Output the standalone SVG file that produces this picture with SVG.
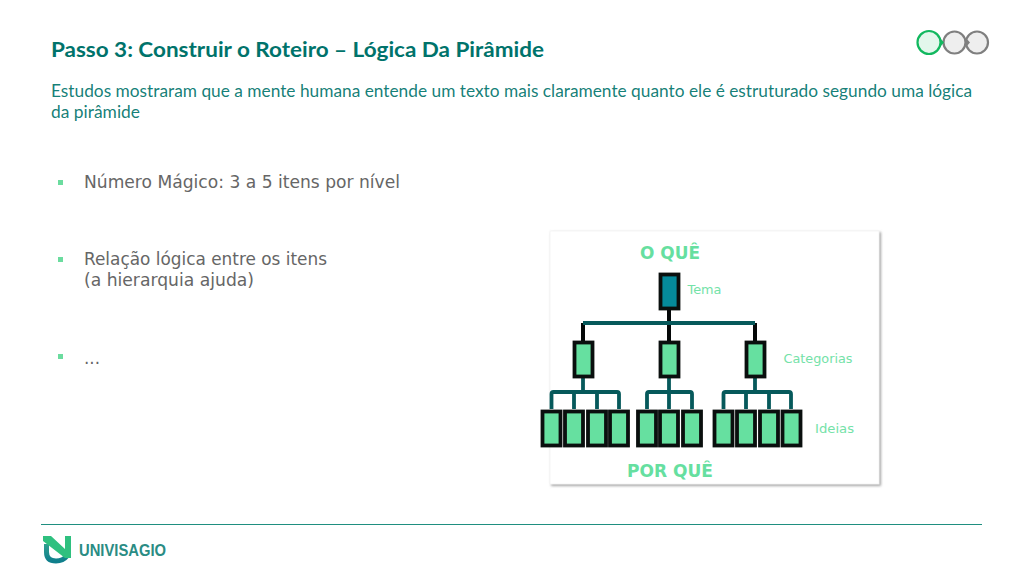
<svg xmlns="http://www.w3.org/2000/svg" width="1024" height="576" viewBox="0 0 1024 576">
<defs>
<linearGradient id="logo" x1="0" y1="0" x2="0" y2="1"><stop offset="0" stop-color="#2f9f8f"/><stop offset="1" stop-color="#0f7f8c"/></linearGradient>
<filter id="sh" x="-5%" y="-5%" width="110%" height="110%"><feDropShadow dx="1.5" dy="1.5" stdDeviation="1" flood-color="#888" flood-opacity="0.8"/></filter>
</defs>
<style>
.h{font-family:"Lato","Open Sans",sans-serif;fill:#00736b}
.b{font-family:"DejaVu Sans",Verdana,sans-serif;font-size:16.8px;fill:#666666}
.l{font-family:"DejaVu Sans",Verdana,sans-serif;font-size:13px;fill:#74e2a8}
.t{font-family:"DejaVu Sans",Verdana,sans-serif;font-size:17px;font-weight:bold;fill:#66dfa0}
.bu{fill:#6bdc9f}
.n{fill:#66e0a0;stroke:#0a0f0e;stroke-width:3.800}
.c{fill:none;stroke:#06595b;stroke-width:3.800}
.k{fill:none;stroke:#050808;stroke-width:4}
</style>
<rect width="1024" height="576" fill="#fff"/>
<text class="h" x="51" y="57" font-size="21" font-weight="700" textLength="493" lengthAdjust="spacingAndGlyphs">Passo 3: Construir o Roteiro – Lógica Da Pirâmide</text>
<text class="h" x="51" y="97" font-size="17.500" textLength="921" lengthAdjust="spacingAndGlyphs" fill-opacity="0.92">Estudos mostraram que a mente humana entende um texto mais claramente quanto ele é estruturado segundo uma lógica</text>
<text class="h" x="51" y="118" font-size="17.500" textLength="89" lengthAdjust="spacingAndGlyphs" fill-opacity="0.92">da pirâmide</text>
<g id="steps">
<circle cx="977" cy="42.500" r="11" fill="#eeeeee" stroke="#7f7f7f" stroke-width="2.200"/>
<path d="M966 38L970 42.500L966 47Z" fill="#7f7f7f"/>
<circle cx="954.500" cy="42.500" r="11" fill="#eeeeee" stroke="#7f7f7f" stroke-width="2.200"/>
<circle cx="929" cy="42.500" r="11.500" fill="#e3f7ec" stroke="#12b85f" stroke-width="2.200"/>
<path d="M940 38L944 42.500L940 47Z" fill="#12b85f"/>
</g>
<g id="bullets">
<rect class="bu" x="58" y="180" width="5" height="5"/>
<rect class="bu" x="58" y="257" width="5" height="5"/>
<rect class="bu" x="58" y="354" width="5" height="5"/>
<text class="b" x="84" y="188" textLength="316" lengthAdjust="spacingAndGlyphs">Número Mágico: 3 a 5 itens por nível</text>
<text class="b" x="84" y="265" textLength="243" lengthAdjust="spacingAndGlyphs">Relação lógica entre os itens</text>
<text class="b" x="84" y="286" textLength="170" lengthAdjust="spacingAndGlyphs">(a hierarquia ajuda)</text>
<text class="b" x="84" y="364">...</text>
</g>
<rect id="card" x="550" y="231" width="329" height="253" fill="#fff" stroke="#f2f2f2" stroke-width="0.800" filter="url(#sh)"/>
<g id="connectors">
<path class="k" d="M669 309V341M583 323V341M755 323V341"/>
<path class="c" d="M583 323H755"/>
<path class="c" d="M583 378V392M669 378V409M755 378V392"/>
<path class="c" d="M551.500 409V394Q551.500 392 553.500 392H617Q619 392 619 394V409M574 392V409M597 392V409"/>
<path class="c" d="M647 409V394Q647 392 649 392H690Q692 392 692 394V409"/>
<path class="c" d="M723.500 409V394Q723.500 392 725.500 392H789Q791 392 791 394V409M746 392V409M769 392V409"/>
</g>
<g id="node-tema"><rect x="660.500" y="274.500" width="18" height="34" fill="#058a9b" stroke="#0a0f0e" stroke-width="3.800"/></g>
<g id="node-cat1"><rect class="n" x="574.500" y="342.500" width="18" height="34"/></g>
<g id="node-cat2"><rect class="n" x="660.500" y="342.500" width="18" height="34"/></g>
<g id="node-cat3"><rect class="n" x="746.500" y="342.500" width="18" height="34"/></g>
<g id="leaves">
<rect class="n" x="542.500" y="411.500" width="18" height="34"/>
<rect class="n" x="565" y="411.500" width="18" height="34"/>
<rect class="n" x="588" y="411.500" width="18" height="34"/>
<rect class="n" x="610" y="411.500" width="18" height="34"/>
<rect class="n" x="638" y="411.500" width="18" height="34"/>
<rect class="n" x="660" y="411.500" width="18" height="34"/>
<rect class="n" x="683" y="411.500" width="18" height="34"/>
<rect class="n" x="714.500" y="411.500" width="18" height="34"/>
<rect class="n" x="737" y="411.500" width="18" height="34"/>
<rect class="n" x="760" y="411.500" width="18" height="34"/>
<rect class="n" x="782.500" y="411.500" width="18" height="34"/>
</g>
<g id="labels">
<text class="t" x="670" y="259" text-anchor="middle" textLength="60" lengthAdjust="spacingAndGlyphs">O QUÊ</text>
<text class="t" x="670" y="477" text-anchor="middle" textLength="86" lengthAdjust="spacingAndGlyphs">POR QUÊ</text>
<text class="l" x="687.500" y="294" textLength="34" lengthAdjust="spacingAndGlyphs">Tema</text>
<text class="l" x="783.500" y="363" textLength="69" lengthAdjust="spacingAndGlyphs">Categorias</text>
<text class="l" x="815" y="433" textLength="39" lengthAdjust="spacingAndGlyphs">Ideias</text>
</g>
<path id="rule" d="M41 524.500H982" stroke="#1f8f80" stroke-width="1" fill="none"/>
<g id="logo-mark">
<path d="M46.500 544V552Q46.500 561 56 561Q63 561 67 556" fill="none" stroke="url(#logo)" stroke-width="5"/>
<path d="M43 536H51L65 549V536H71V558H65L43 541Z" fill="#2fc07f"/>
</g>
<text id="brand" x="79" y="556" font-family="Liberation Sans, sans-serif" font-size="16" font-weight="700" fill="#2a8c84" textLength="87" lengthAdjust="spacingAndGlyphs">UNIVISAGIO</text>
</svg>
